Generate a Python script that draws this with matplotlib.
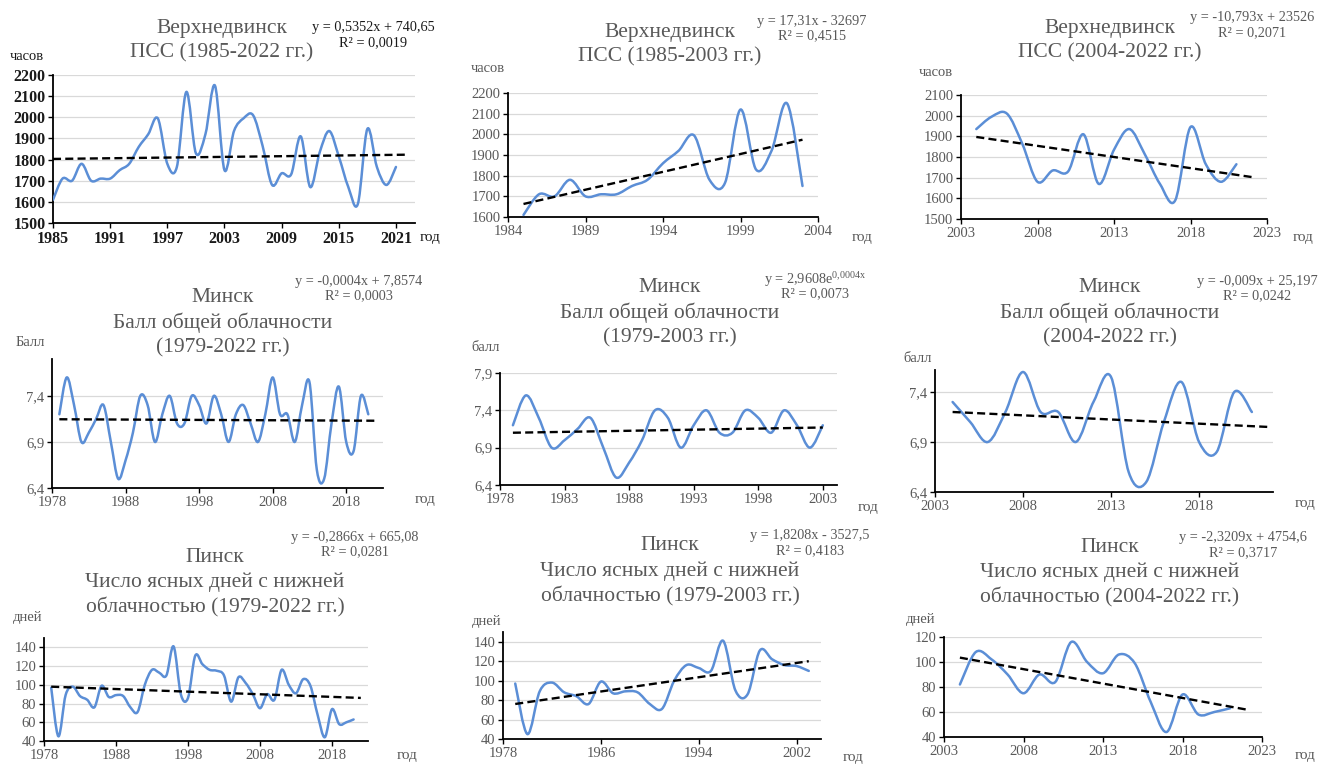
import numpy as np
import matplotlib
matplotlib.use("Agg")
import matplotlib.pyplot as plt
from matplotlib.path import Path
from matplotlib.patches import PathPatch

plt.rcParams['font.family'] = ['Liberation Serif', 'DejaVu Serif']
plt.rcParams['mathtext.fontset'] = 'custom'
plt.rcParams['mathtext.rm'] = 'Liberation Serif'

# ---- data ----
# Верхнедвинск, ПСС, часов (1985-2021)
verh_years = list(range(1985, 2022))
verh_hours = [1610, 1710, 1700, 1780, 1700, 1710, 1710, 1750, 1780, 1860,
              1920, 1995, 1780, 1765, 2120, 1830, 1920, 2150, 1750, 1935,
              1995, 2010, 1865, 1680, 1735, 1730, 1910, 1670, 1835, 1935,
              1815, 1670, 1590, 1945, 1765, 1680, 1765]

# Минск, балл общей облачности (1979-2021)
minsk_years = list(range(1979, 2022))
minsk_cloud = [7.2, 7.6, 7.3, 6.9, 7.0, 7.15, 7.3, 6.9, 6.5, 6.7,
               7.0, 7.4, 7.3, 6.9, 7.2, 7.4, 7.1, 7.1, 7.4, 7.3,
               7.1, 7.4, 7.2, 6.9, 7.2, 7.3, 7.1, 6.9, 7.2, 7.6,
               7.2, 7.2, 6.9, 7.3, 7.55, 6.6, 6.5, 7.1, 7.5, 6.9,
               6.8, 7.4, 7.2]

# Пинск, число ясных дней с нижней облачностью (1979-2021)
pinsk_years = list(range(1979, 2022))
pinsk_days = [97, 45, 89, 98, 88, 84, 76, 99, 87, 89,
              88, 76, 71, 100, 116, 113, 110, 141, 90, 86,
              131, 122, 116, 115, 110, 82, 108, 102, 90, 75,
              90, 84, 116, 100, 91, 106, 99, 68, 44, 74,
              58, 60, 63]

# year ranges of each panel
periods = [(1985, 2021), (1985, 2003), (2004, 2021),
           (1979, 2021), (1979, 2003), (2004, 2021),
           (1979, 2021), (1979, 2003), (2004, 2021)]

# trend lines: start/end years and values
trend_x = [(1985, 2022), (1985, 2003), (2004, 2022),
           (1979, 2022), (1979, 2003), (2004, 2022),
           (1979, 2022), (1979, 2003), (2004, 2022)]
trend_y = [(1803, 1823), (1663, 1974), (1897, 1703),
           (7.146, 7.13), (7.10, 7.17), (7.20, 7.05),
           (98, 86), (76, 120), (103.5, 62)]

equations = ["y = 0,5352x + 740,65", "y = 17,31x - 32697", "y = -10,793x + 23526",
             "y = -0,0004x + 7,8574", r"y = 2,9608e$^{\mathregular{0{,}0004x}}$",
             "y = -0,009x + 25,197",
             "y = -0,2866x + 665,08", "y = 1,8208x - 3527,5", "y = -2,3209x + 4754,6"]
r2_values = ["R² = 0,0019", "R² = 0,4515", "R² = 0,2071",
             "R² = 0,0003", "R² = 0,0073", "R² = 0,0242",
             "R² = 0,0281", "R² = 0,4183", "R² = 0,3717"]

titles = [["Верхнедвинск", "ПСС (1985-2022 гг.)"],
          ["Верхнедвинск", "ПСС (1985-2003 гг.)"],
          ["Верхнедвинск", "ПСС (2004-2022 гг.)"],
          ["Минск", "Балл общей облачности", "(1979-2022 гг.)"],
          ["Минск", "Балл общей облачности", "(1979-2003 гг.)"],
          ["Минск", "Балл общей облачности", "(2004-2022 гг.)"],
          ["Пинск", "Число ясных дней с нижней", "облачностью (1979-2022 гг.)"],
          ["Пинск", "Число ясных дней с нижней", "облачностью (1979-2003 гг.)"],
          ["Пинск", "Число ясных дней с нижней", "облачностью (2004-2022 гг.)"]]
units = ["часов", "часов", "часов", "Балл", "балл", "балл", "дней", "дней", "дней"]

xticks = [list(range(1985, 2022, 6)), list(range(1984, 2005, 5)), list(range(2003, 2024, 5)),
          list(range(1978, 2019, 10)), list(range(1978, 2004, 5)), list(range(2003, 2019, 5)),
          list(range(1978, 2019, 10)), list(range(1978, 2003, 8)), list(range(2003, 2024, 5))]
yticks = [list(range(1500, 2201, 100)), list(range(1600, 2201, 100)), list(range(1500, 2101, 100)),
          [6.4, 6.9, 7.4], [6.4, 6.9, 7.4, 7.9], [6.4, 6.9, 7.4],
          list(range(40, 141, 20)), list(range(40, 141, 20)), list(range(40, 121, 20))]

# ---- layout (pixels) ----
W, H = 1319, 765
boxes = [(53, 75, 415, 223), (508, 93, 818, 217), (961, 95, 1267, 219),
         (52, 359, 383, 488), (500, 373, 837, 485), (935, 370, 1273, 492),
         (44, 638, 368, 741), (503, 632, 821, 739), (944, 637, 1262, 737)]
xlims = [(1985, 2023), (1984, 2004), (2003, 2023),
         (1978, 2023), (1978, 2004.1), (2003, 2022.2),
         (1978, 2023), (1978, 2004), (2003, 2023)]
ylims = [(1500, 2200), (1600, 2200), (1500, 2100),
         (6.4, 7.8), (6.4, 7.9), (6.4, 7.62),
         (40, 150), (40, 150), (40, 120)]
title_pos = [(222, 28), (670, 32), (1110, 28),
             (223, 298), (670, 288), (1110, 288),
             (215, 557), (670, 546), (1110, 547)]
eq_pos = [(373, 28), (812, 21), (1252, 18),
          (359, 281), (815, 279), (1257, 281),
          (355, 537), (810, 536), (1243, 538)]
unit_pos = [(27, 56), (488, 69), (936, 72),
            (30, 342), (486, 348), (918, 358),
            (28, 617), (487, 621), (921, 619)]
god_pos = [(430, 237), (862, 237), (1303, 237),
           (425, 500), (868, 507), (1305, 503),
           (407, 756), (853, 757), (1305, 756)]

BLUE = '#5B8ED6'
GRAY = '#595959'

fig = plt.figure(figsize=(W / 100, H / 100), dpi=100)


def ftext(x, y, s, **kw):
    return fig.text(x / W, 1 - y / H, s, **kw)


def smooth_path(x, y, t=1 / 6):
    # Bezier curve through the points, like Excel's smoothed line
    pts = np.column_stack([x, y]).astype(float)
    n = len(pts)
    verts = [pts[0]]
    codes = [Path.MOVETO]
    for i in range(n - 1):
        p0 = pts[i - 1] if i > 0 else pts[i]
        p1 = pts[i]
        p2 = pts[i + 1]
        p3 = pts[i + 2] if i + 2 < n else pts[i + 1]
        verts += [p1 + (p2 - p0) * t, p2 - (p3 - p1) * t, p2]
        codes += [Path.CURVE4] * 3
    return Path(verts, codes)


series = [(verh_years, verh_hours)] * 3 + [(minsk_years, minsk_cloud)] * 3 + [(pinsk_years, pinsk_days)] * 3

for k in range(9):
    l, t, r, b = boxes[k]
    ax = fig.add_axes([l / W, 1 - b / H, (r - l) / W, (b - t) / H])
    yrs, vals = series[k]
    y0, y1 = periods[k]
    xs = [yr for yr in yrs if y0 <= yr <= y1]
    vs = [v for yr, v in zip(yrs, vals) if y0 <= yr <= y1]

    dark = (k == 0)
    tcol = '#1a1a1a' if dark else GRAY

    ax.add_patch(PathPatch(smooth_path(xs, vs), fill=False, edgecolor=BLUE, lw=1.8,
                           capstyle='round', joinstyle='round', zorder=3))
    ax.plot(trend_x[k], trend_y[k], color='black', lw=1.7, linestyle=(0, (3.4, 1.8)), zorder=4)

    ax.set_xlim(*xlims[k])
    ax.set_ylim(*ylims[k])
    ax.set_xticks(xticks[k])
    ax.set_yticks(yticks[k])
    if k in (3, 4, 5):
        ax.set_yticklabels([f"{v:.1f}".replace('.', ',') for v in yticks[k]])
    ax.grid(axis='y', color='#D9D9D9', lw=0.9)
    ax.set_axisbelow(True)
    for s in ('top', 'right'):
        ax.spines[s].set_visible(False)
    for s in ('left', 'bottom'):
        ax.spines[s].set_color('black')
        ax.spines[s].set_linewidth(1.3)
    ax.tick_params(axis='both', length=3.5, width=1.0, color='black', direction='out',
                   labelsize=11.5 if dark else 10.5, labelcolor=tcol, pad=2)
    if dark:
        for lab in ax.get_xticklabels() + ax.get_yticklabels():
            lab.set_fontweight('bold')

    # titles
    tx, ty = title_pos[k]
    for i, line in enumerate(titles[k]):
        ftext(tx, ty + i * 25, line, ha='center', va='center', fontsize=15.5, color=GRAY)

    ex, ey = eq_pos[k]
    ftext(ex, ey, equations[k], ha='center', va='center', fontsize=10.3, color=tcol)
    ftext(ex, ey + 15, r2_values[k], ha='center', va='center', fontsize=10.3, color=tcol)

    ux, uy = unit_pos[k]
    ftext(ux, uy, units[k], ha='center', va='center', fontsize=10.5, color=tcol)
    gx, gy = god_pos[k]
    ftext(gx, gy, "год", ha='center', va='center', fontsize=11, color=tcol)

fig.savefig('out.png', dpi=100)
